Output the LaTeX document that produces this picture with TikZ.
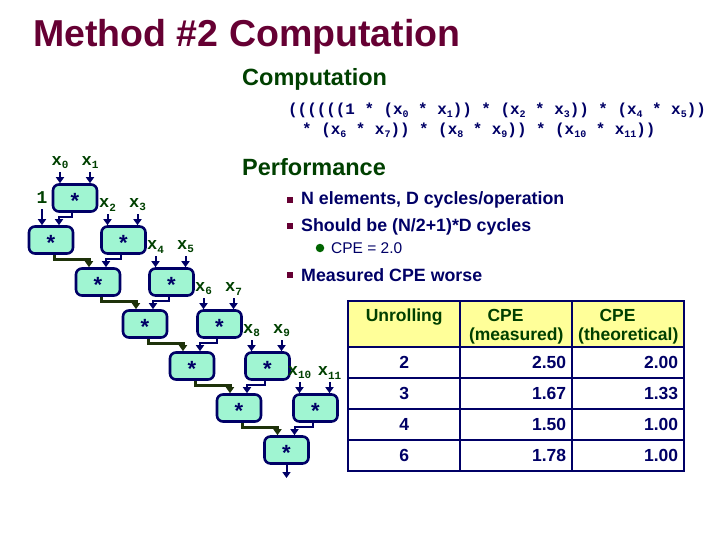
\PassOptionsToPackage{table}{xcolor}
\documentclass[tikz,border=0pt]{standalone}
\usepackage{fontspec}
\setmainfont{Liberation Sans}
\newfontfamily\codefont{Liberation Mono}
\usepackage{array}
\usetikzlibrary{positioning, arrows.meta}
\definecolor{ttlmaroon}{RGB}{102, 0, 51}
\definecolor{hdgreen}{RGB}{0, 64, 0}
\definecolor{txtnavy}{RGB}{0, 0, 102}
\definecolor{boxaqua}{RGB}{160, 245, 210}
\definecolor{hdryellow}{RGB}{255, 255, 153}
\definecolor{chainolive}{RGB}{30, 50, 10}
\definecolor{subgreen}{RGB}{0, 100, 0}
% Tiefgestellte Indizes
\newcommand{\xsb}[1]{\raisebox{-0.35ex}{\fontsize{11}{11}\selectfont #1}}
\newcommand{\csb}[1]{\raisebox{-0.3ex}{\fontsize{10}{10}\selectfont #1}}
\tikzset{
  mulbox/.style={rectangle, rounded corners=6pt, draw=txtnavy, line width=2.6pt, fill=boxaqua, minimum width=44pt, minimum height=27pt, inner sep=0pt, text height=20pt, text depth=0pt, font=\fontsize{22}{22}\selectfont\bfseries, text=txtnavy},
  xlab/.style={inner sep=1pt, font=\codefont\bfseries\fontsize{17}{17}\selectfont, text=hdgreen},
  codetxt/.style={inner sep=0pt, anchor=base west, font=\codefont\bfseries\fontsize{15.9}{16}\selectfont, text=txtnavy},
  heading/.style={inner sep=0pt, anchor=base west, font=\fontsize{23.5}{24}\selectfont\bfseries, text=hdgreen},
  bultxt/.style={inner sep=0pt, anchor=base west, font=\fontsize{17.8}{18}\selectfont\bfseries, text=txtnavy},
  sqbullet/.style={rectangle, fill=ttlmaroon, minimum size=6.5pt, inner sep=0pt},
  feed/.style={draw=txtnavy, line width=2pt, -{Triangle[length=6pt,width=8pt]}},
  chain/.style={draw=chainolive, line width=3pt, -{Triangle[length=6pt,width=8pt]}}
}
\begin{document}
\begin{tikzpicture}[x=1pt, y=-1pt]
    \useasboundingbox (0,0) rectangle (720,540);
    % Titel
    \node[inner sep=0pt, anchor=base west, font=\fontsize{37.5}{38}\selectfont\bfseries, text=ttlmaroon] (title) at (33,47) {Method \#2 Computation};

    % Berechnung
    \node[heading] (comp) at (242,86) {Computation};
    \node[codetxt] (code1) at (288,115) {((((((1 * (x\csb{0} * x\csb{1})) * (x\csb{2} * x\csb{3})) * (x\csb{4} * x\csb{5}))};
    \node[codetxt] (code2) at (302,135) {* (x\csb{6} * x\csb{7})) * (x\csb{8} * x\csb{9})) * (x\csb{10} * x\csb{11}))};

    % Leistung
    \node[heading] (perf) at (242,176) {Performance};
    \node[sqbullet] (b1) at (290,200) {};
    \node[bultxt] (t1) at (301,205) {N elements, D cycles/operation};
    \node[sqbullet] (b2) at (290,226) {};
    \node[bultxt] (t2) at (301,232) {Should be (N/2+1)*D cycles};
    \node[circle, fill=subgreen, minimum size=8.5pt, inner sep=0pt] (b21) at (320,248) {};
    \node[inner sep=0pt, anchor=base west, font=\fontsize{15.5}{16}\selectfont, text=txtnavy] (t21) at (331,253) {CPE = 2.0};
    \node[sqbullet] (b3) at (290,275) {};
    \node[bultxt] (t3) at (301,281) {Measured CPE worse};

    % Baum der Multiplikationen
    \node[mulbox] (mul1) at (75,198) {*};
    \node[mulbox] (acc2) at (51,240) {*};
    \node[mulbox] (mul2) at (123.5,240) {*};
    \node[mulbox] (acc3) at (98,282) {*};
    \node[mulbox] (mul3) at (171.5,282) {*};
    \node[mulbox] (acc4) at (145,324) {*};
    \node[mulbox] (mul4) at (219.5,324) {*};
    \node[mulbox] (acc5) at (192,366) {*};
    \node[mulbox] (mul5) at (267.5,366) {*};
    \node[mulbox] (acc6) at (239,408) {*};
    \node[mulbox] (mul6) at (315.5,408) {*};
    \node[mulbox] (acc7) at (286.5,450) {*};

    % Eingaenge
    \node[xlab, font=\codefont\bfseries\fontsize{18}{18}\selectfont] (one) at (42,198) {1};
    \node[xlab, above=13pt of mul1.north, xshift=-15pt] (x0) {x\xsb{0}};
    \node[xlab, above=13pt of mul1.north, xshift=15pt] (x1) {x\xsb{1}};
    \node[xlab, above=13pt of mul2.north, xshift=-16pt] (x2) {x\xsb{2}};
    \node[xlab, above=13pt of mul2.north, xshift=14pt] (x3) {x\xsb{3}};
    \node[xlab, above=13pt of mul3.north, xshift=-16pt] (x4) {x\xsb{4}};
    \node[xlab, above=13pt of mul3.north, xshift=14pt] (x5) {x\xsb{5}};
    \node[xlab, above=13pt of mul4.north, xshift=-16pt] (x6) {x\xsb{6}};
    \node[xlab, above=13pt of mul4.north, xshift=14pt] (x7) {x\xsb{7}};
    \node[xlab, above=13pt of mul5.north, xshift=-16pt] (x8) {x\xsb{8}};
    \node[xlab, above=13pt of mul5.north, xshift=14pt] (x9) {x\xsb{9}};
    \node[xlab, above=13pt of mul6.north, xshift=-16pt] (x10) {x\xsb{10}};
    \node[xlab, above=13pt of mul6.north, xshift=14pt] (x11) {x\xsb{11}};

    \draw[feed, shorten <=4pt] (one.south) -- (one.south |- acc2.north);
    \draw[feed, shorten <=2pt] (x0.south) -- (x0.south |- mul1.north);
    \draw[feed, shorten <=2pt] (x1.south) -- (x1.south |- mul1.north);
    \draw[feed, shorten <=2pt] (x2.south) -- (x2.south |- mul2.north);
    \draw[feed, shorten <=2pt] (x3.south) -- (x3.south |- mul2.north);
    \draw[feed, shorten <=2pt] (x4.south) -- (x4.south |- mul3.north);
    \draw[feed, shorten <=2pt] (x5.south) -- (x5.south |- mul3.north);
    \draw[feed, shorten <=2pt] (x6.south) -- (x6.south |- mul4.north);
    \draw[feed, shorten <=2pt] (x7.south) -- (x7.south |- mul4.north);
    \draw[feed, shorten <=2pt] (x8.south) -- (x8.south |- mul5.north);
    \draw[feed, shorten <=2pt] (x9.south) -- (x9.south |- mul5.north);
    \draw[feed, shorten <=2pt] (x10.south) -- (x10.south |- mul6.north);
    \draw[feed, shorten <=2pt] (x11.south) -- (x11.south |- mul6.north);

    % Paarprodukte in die Kette
    \draw[feed] ([xshift=-3pt]mul1.south) -- ++(0,4.5) -| ([xshift=8pt]acc2.north);
    \draw[feed] ([xshift=-3pt]mul2.south) -- ++(0,4.5) -| ([xshift=8pt]acc3.north);
    \draw[feed] ([xshift=-3pt]mul3.south) -- ++(0,4.5) -| ([xshift=8pt]acc4.north);
    \draw[feed] ([xshift=-3pt]mul4.south) -- ++(0,4.5) -| ([xshift=8pt]acc5.north);
    \draw[feed] ([xshift=-3pt]mul5.south) -- ++(0,4.5) -| ([xshift=8pt]acc6.north);
    \draw[feed] ([xshift=-3pt]mul6.south) -- ++(0,4.5) -| ([xshift=8pt]acc7.north);

    % Akkumulator-Kette
    \draw[chain] ([xshift=3pt]acc2.south) -- ++(0,4.5) -| ([xshift=-9pt]acc3.north);
    \draw[chain] ([xshift=3pt]acc3.south) -- ++(0,4.5) -| ([xshift=-9pt]acc4.north);
    \draw[chain] ([xshift=3pt]acc4.south) -- ++(0,4.5) -| ([xshift=-9pt]acc5.north);
    \draw[chain] ([xshift=3pt]acc5.south) -- ++(0,4.5) -| ([xshift=-9pt]acc6.north);
    \draw[chain] ([xshift=3pt]acc6.south) -- ++(0,4.5) -| ([xshift=-9pt]acc7.north);
    \coordinate (res) at (286.5,478);
    \draw[feed] (acc7.south) -- (res);

    % Tabelle
    \node[inner sep=0pt, anchor=north west] (tbl) at (347,300) {%
        \setlength{\tabcolsep}{5pt}%
        \setlength{\arrayrulewidth}{2pt}%
        \arrayrulecolor{txtnavy}%
        \fontsize{17.5}{19}\selectfont\bfseries\color{txtnavy}%
        \begin{tabular}{|>{\centering\arraybackslash}p{100pt}|>{\raggedleft\arraybackslash}p{100pt}|>{\raggedleft\arraybackslash}p{100pt}|}
        \hline
        \rowcolor{hdryellow}
        \textcolor{hdgreen}{Unrolling}\rule[-25pt]{0pt}{44pt} & \multicolumn{1}{>{\centering\arraybackslash}p{100pt}|}{\textcolor{hdgreen}{CPE\newline(measured)}} & \multicolumn{1}{>{\centering\arraybackslash}p{100pt}|}{\textcolor{hdgreen}{CPE\newline(theoretical)}} \\ \hline
        2\rule[-9pt]{0pt}{29pt} & 2.50 & 2.00 \\ \hline
        3\rule[-9pt]{0pt}{29pt} & 1.67 & 1.33 \\ \hline
        4\rule[-9pt]{0pt}{29pt} & 1.50 & 1.00 \\ \hline
        6\rule[-9pt]{0pt}{29pt} & 1.78 & 1.00 \\ \hline
        \end{tabular}%
    };
\end{tikzpicture}
\end{document}
